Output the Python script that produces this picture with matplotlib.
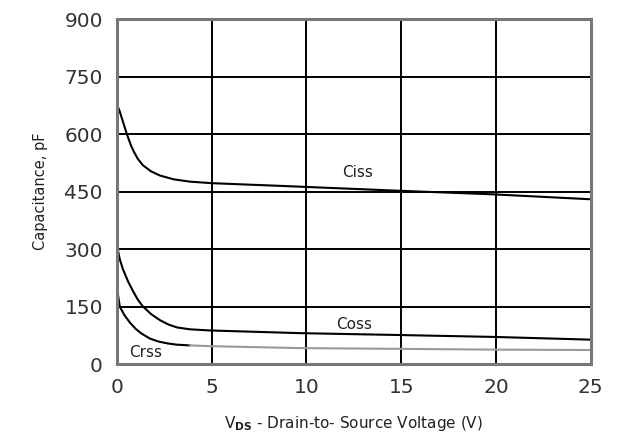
import matplotlib.pyplot as plt

# values
v_ciss = [0, 0.15, 0.3, 0.53, 0.75, 0.9, 1.1, 1.37, 1.8, 2.27, 3.0, 3.85, 5, 8.6, 15, 19.8, 25]
c_ciss = [678, 660, 636, 600, 570, 554, 536, 519, 503, 492, 482, 476, 472, 465, 452, 443, 430]

v_coss = [0, 0.02, 0.05, 0.15, 0.32, 0.6, 0.85, 1.1, 1.37, 1.8, 2.27, 2.7, 3.16, 3.85, 4.9,
          9.65, 15, 20, 25]
c_coss = [400, 345, 300, 275, 248, 215, 191, 169, 151, 131, 115, 104, 96, 91, 88,
          81, 76, 71, 64]

v_crss = [0, 0.05, 0.16, 0.4, 0.7, 1.0, 1.3, 1.74, 2.2, 2.7, 3.16, 3.85, 5, 9.65, 15, 20, 25]
c_crss = [220, 185, 150, 128, 108, 92, 80, 67, 59, 54, 51, 49, 47, 42, 40, 38, 37]

x_ticks = [0, 5, 10, 15, 20, 25]
y_ticks = [0, 150, 300, 450, 600, 750, 900]

fig = plt.figure(figsize=(6.18, 4.42), dpi=100)
ax = fig.add_axes([0.189, 0.176, 0.767, 0.781])

ax.plot(v_ciss, c_ciss, color="black", lw=1.5)
ax.plot(v_coss, c_coss, color="black", lw=1.5)

# Crss: dark up to ~4 V, light grey after
n = 12
ax.plot(v_crss[:n], c_crss[:n], color="black", lw=1.5)
ax.plot(v_crss[n - 1:], c_crss[n - 1:], color="#9a9a9a", lw=1.5)

ax.text(12.7, 500, "Ciss", fontsize=11, ha="center", va="center", color="#222222")
ax.text(12.5, 103, "Coss", fontsize=11, ha="center", va="center", color="#222222")
ax.text(1.5, 30, "Crss", fontsize=11, ha="center", va="center", color="#222222")

ax.set_xlim(0, 25)
ax.set_ylim(0, 900)
ax.set_xticks(x_ticks)
ax.set_yticks(y_ticks)
ax.grid(True, color="black", lw=1.4)
ax.tick_params(length=0, labelsize=14.5, labelcolor="#333333", pad=10)
for s in ax.spines.values():
    s.set_color("#777777")
    s.set_linewidth(2.2)

ax.set_ylabel("Capacitance, pF", fontsize=10.5, color="#222222", labelpad=12)
ax.set_xlabel(r"V$_{\mathbf{DS}}$ - Drain-to- Source Voltage (V)", fontsize=11,
              color="#222222", labelpad=12)

fig.savefig("out.png", dpi=100)
